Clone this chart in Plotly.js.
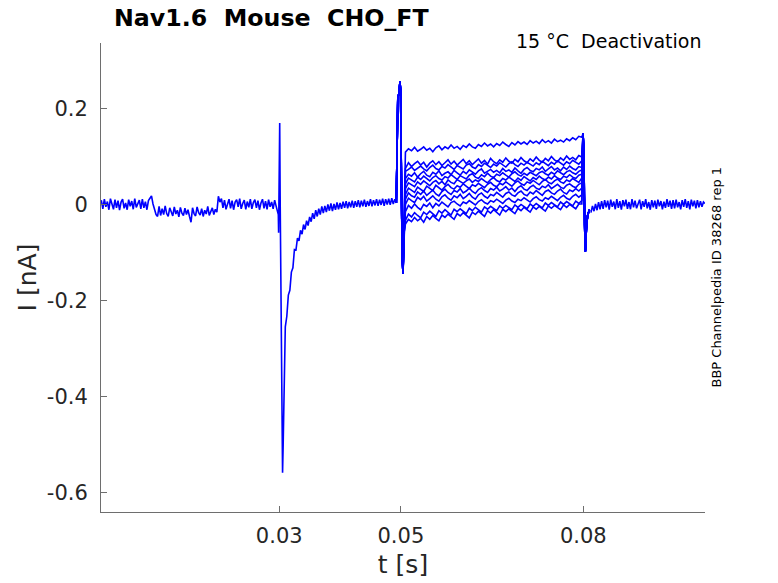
<!DOCTYPE html>
<html>
<head>
<meta charset="utf-8">
<script src="https://cdn.plot.ly/plotly-3.0.1.min.js"></script>
<style>
  body { margin: 0; background: #fff; }
  #chart { width: 778px; height: 583px; }
</style>
</head>
<body>
<div id="chart"></div>
<script>
// sampled current traces, I in nA, times in ms (converted to s below)

// common baseline before the 0.03 s step, sampled every 0.25 ms from 0.75 ms
var preStart = 0.75, preStep = 0.25;
var iPre = [0.010,-0.008,0.012,-0.004,0.007,-0.010,0.013,0.001,-0.009,0.011,-0.006,0.009,-0.011,0.006,0.012,-0.007,0.004,-0.010,0.011,-0.003,0.008,-0.009,0.013,-0.005,0.002,0.010,-0.008,0.012,-0.006,0.007,-0.010,0.009,0.014,0.019,
  0.002,-0.012,-0.020,-0.024,
  -0.003,-0.022,-0.008,-0.020,-0.002,-0.018,-0.024,-0.006,-0.015,-0.023,-0.004,-0.019,-0.011,-0.025,-0.005,-0.017,-0.022,-0.007,-0.020,-0.010,-0.024,-0.036,-0.006,-0.018,-0.023,-0.004,-0.016,-0.021,-0.008,-0.024,-0.011,-0.019,-0.003,-0.022,-0.014,-0.006,-0.020,-0.009,-0.015,
  0.018,0.006,
  0.013,-0.006,0.010,-0.009,0.004,0.012,-0.007,0.009,-0.010,0.006,0.011,-0.004,0.013,-0.008,0.003,0.010,-0.009,0.007,-0.005,0.012,-0.008,0.005,0.011,-0.006,0.009,-0.010,0.004,0.012,-0.007,0.008,-0.009,0.011,-0.004,0.006,-0.008,0.010,-0.003,-0.013];

// capacitive spike at 0.03 s
var tSpike30 = [29.85, 29.9, 29.98, 30.08, 30.15, 30.28, 30.42, 30.55, 30.65, 30.8, 31.0];
var iSpike30 = [-0.02, -0.058, 0.05, 0.171, 0.02, -0.25, -0.48, -0.558, -0.50, -0.36, -0.254];

// tail current decay, every 0.25 ms from 31.25 ms
var decayStart = 31.25, decayStep = 0.25;
var iDecay = [-0.232,-0.188,-0.178,-0.140,-0.131,-0.093,-0.094,-0.069,-0.075,-0.053,-0.061,-0.041,-0.051,-0.033,-0.043,-0.025,-0.035,-0.017,-0.029,-0.011,
  -0.024,-0.008,-0.020,-0.003,-0.017,-0.002,-0.015,0.001,-0.012,0.003,-0.013,0.002,-0.010,0.005,-0.009,0.004,-0.008,0.007,-0.006,0.008,
  -0.007,0.006,-0.005,0.009,-0.006,0.008,-0.004,0.010,-0.005,0.009,-0.003,0.011,-0.004,0.008,-0.002,0.012,-0.003,0.010,-0.001,0.012,
  -0.002,0.011,0.000,0.013,-0.002,0.012,0.001,0.013,0.000,0.014,0.002,0.012,0.004];

// spike at 0.05 s, shared by all sweeps
var tSpike50 = [49.25, 49.5, 49.7, 49.85, 49.95, 50.05, 50.2, 50.35, 50.5];
var iSpike50 = [0.004, 0.225, 0.232, 0.257, 0.24, 0.05, -0.10, -0.144, -0.06];

// sweep plateaus 0.05..0.08 s, every 0.5 ms from 50.75 ms
var plateauStart = 50.75, plateauStep = 0.5;
var sweep1 = [0.110,0.117,0.113,0.120,0.112,0.116,0.121,0.114,0.118,0.111,
  0.119,0.123,0.115,0.121,0.117,0.125,0.118,0.122,0.116,0.124,
  0.120,0.127,0.121,0.118,0.126,0.122,0.129,0.123,0.127,0.121,
  0.128,0.124,0.131,0.126,0.122,0.130,0.125,0.132,0.127,0.131,
  0.126,0.134,0.129,0.133,0.128,0.136,0.130,0.134,0.129,0.137,
  0.132,0.135,0.131,0.138,0.134,0.140,0.136,0.143,0.141];
var sweep2 = [0.076,0.088,0.080,0.086,0.091,0.083,0.089,0.079,0.087,0.092,
  0.084,0.090,0.082,0.088,0.094,0.085,0.091,0.083,0.089,0.095,
  0.086,0.092,0.084,0.090,0.096,0.087,0.093,0.085,0.097,0.090,
  0.086,0.094,0.089,0.098,0.091,0.087,0.095,0.090,0.099,0.092,
  0.088,0.096,0.091,0.100,0.093,0.089,0.097,0.092,0.101,0.094,
  0.090,0.098,0.093,0.102,0.095,0.099,0.094,0.103,0.100];
var sweep3 = [0.070,0.074,0.079,0.072,0.076,0.081,0.075,0.071,0.078,0.083,
  0.076,0.073,0.080,0.077,0.084,0.078,0.074,0.082,0.079,0.075,
  0.083,0.086,0.079,0.076,0.084,0.080,0.087,0.082,0.078,0.085,
  0.081,0.088,0.083,0.079,0.086,0.090,0.084,0.080,0.087,0.083,
  0.089,0.085,0.081,0.088,0.084,0.091,0.086,0.082,0.089,0.085,
  0.092,0.087,0.083,0.090,0.086,0.093,0.088,0.085,0.092];
var sweep4 = [0.055,0.064,0.060,0.067,0.058,0.065,0.070,0.062,0.059,0.068,
  0.064,0.071,0.061,0.066,0.069,0.063,0.072,0.067,0.062,0.070,
  0.065,0.073,0.068,0.064,0.071,0.075,0.066,0.070,0.074,0.068,
  0.072,0.067,0.076,0.070,0.073,0.068,0.077,0.071,0.066,0.074,
  0.078,0.072,0.069,0.076,0.073,0.079,0.070,0.075,0.080,0.073,
  0.077,0.071,0.079,0.074,0.081,0.076,0.073,0.080,0.078];
var sweep5 = [0.044,0.056,0.051,0.048,0.058,0.053,0.060,0.054,0.050,0.057,
  0.061,0.055,0.052,0.059,0.056,0.063,0.057,0.053,0.061,0.058,
  0.054,0.062,0.065,0.058,0.055,0.063,0.059,0.066,0.060,0.057,
  0.064,0.061,0.067,0.062,0.058,0.065,0.069,0.063,0.060,0.066,
  0.062,0.068,0.064,0.061,0.067,0.070,0.065,0.062,0.068,0.064,
  0.071,0.066,0.063,0.069,0.072,0.067,0.064,0.070,0.073];
var sweep6 = [0.034,0.046,0.041,0.038,0.048,0.043,0.050,0.045,0.040,0.047,
  0.051,0.044,0.049,0.042,0.052,0.047,0.044,0.053,0.048,0.045,
  0.050,0.054,0.047,0.052,0.049,0.055,0.050,0.046,0.053,0.057,
  0.051,0.048,0.055,0.052,0.058,0.053,0.049,0.056,0.051,0.059,
  0.054,0.050,0.057,0.053,0.060,0.055,0.052,0.058,0.054,0.061,
  0.056,0.053,0.060,0.057,0.063,0.058,0.055,0.062,0.064];
var sweep7 = [0.022,0.035,0.030,0.026,0.037,0.032,0.028,0.039,0.034,0.030,
  0.041,0.035,0.031,0.038,0.043,0.036,0.033,0.040,0.037,0.044,
  0.038,0.034,0.042,0.039,0.045,0.040,0.036,0.043,0.047,0.041,
  0.038,0.045,0.042,0.048,0.043,0.039,0.046,0.050,0.044,0.041,
  0.048,0.045,0.051,0.046,0.042,0.049,0.053,0.047,0.044,0.050,
  0.054,0.048,0.045,0.052,0.049,0.055,0.050,0.047,0.056];
var sweep8 = [0.012,0.025,0.019,0.016,0.027,0.022,0.029,0.020,0.025,0.031,
  0.023,0.019,0.028,0.033,0.026,0.022,0.030,0.027,0.034,0.025,
  0.029,0.035,0.028,0.024,0.032,0.036,0.030,0.026,0.034,0.031,
  0.037,0.029,0.033,0.038,0.031,0.035,0.028,0.036,0.040,0.033,
  0.030,0.037,0.041,0.035,0.032,0.039,0.036,0.042,0.034,0.038,
  0.043,0.037,0.034,0.041,0.044,0.039,0.036,0.043,0.046];
var sweep9 = [0.001,0.014,0.009,0.005,0.016,0.011,0.018,0.008,0.013,0.019,
  0.012,0.008,0.017,0.021,0.014,0.010,0.019,0.015,0.022,0.013,
  0.018,0.024,0.016,0.012,0.021,0.025,0.018,0.014,0.022,0.019,
  0.026,0.020,0.016,0.024,0.027,0.021,0.018,0.025,0.029,0.022,
  0.019,0.027,0.023,0.030,0.024,0.020,0.028,0.031,0.025,0.022,
  0.029,0.033,0.026,0.023,0.031,0.028,0.034,0.029,0.035];
var sweep10 = [-0.014,-0.001,-0.007,0.002,-0.005,-0.010,0.001,-0.003,0.004,-0.006,
  0.003,-0.002,0.006,0.000,-0.004,0.005,0.008,0.002,-0.002,0.006,
  0.003,0.009,0.004,0.000,0.007,0.011,0.005,0.002,0.009,0.006,
  0.012,0.007,0.003,0.010,0.014,0.008,0.005,0.012,0.009,0.015,
  0.010,0.006,0.013,0.017,0.011,0.008,0.015,0.012,0.018,0.013,
  0.009,0.016,0.020,0.014,0.011,0.018,0.022,0.016,0.021];
var sweep11 = [-0.032,-0.019,-0.025,-0.016,-0.022,-0.027,-0.015,-0.020,-0.013,-0.019,
  -0.024,-0.012,-0.017,-0.010,-0.016,-0.021,-0.009,-0.014,-0.008,-0.013,
  -0.018,-0.007,-0.012,-0.005,-0.010,-0.015,-0.004,-0.009,-0.003,-0.008,
  -0.012,-0.002,-0.007,-0.001,-0.006,-0.010,0.000,-0.005,0.001,-0.004,
  -0.008,0.002,-0.003,0.003,-0.002,-0.006,0.004,-0.001,0.005,0.000,
  -0.004,0.006,0.001,0.007,0.002,-0.002,0.008,0.003,0.009];
var sweep12 = [-0.040,-0.030,-0.035,-0.026,-0.033,-0.028,-0.036,-0.024,-0.030,-0.022,
  -0.028,-0.033,-0.021,-0.026,-0.019,-0.025,-0.030,-0.018,-0.023,-0.016,
  -0.022,-0.027,-0.015,-0.020,-0.013,-0.019,-0.024,-0.012,-0.017,-0.010,
  -0.016,-0.021,-0.009,-0.014,-0.008,-0.013,-0.018,-0.007,-0.012,-0.005,
  -0.011,-0.015,-0.004,-0.009,-0.003,-0.008,-0.013,-0.002,-0.007,-0.001,
  -0.006,-0.010,0.000,-0.005,0.001,-0.004,-0.008,0.002,0.002];

// spike at 0.08 s, shared by all sweeps
var tSpike80 = [79.95, 80.05, 80.2, 80.33, 80.5, 80.7, 81.0];
var iSpike80 = [0.149, 0.12, -0.04, -0.097, -0.05, -0.022, -0.010];

// common baseline after 0.08 s, every 0.25 ms from 81.25 ms
var postStart = 81.25, postStep = 0.25;
var iPost = [-0.016,-0.002,-0.013,0.002,-0.011,0.006,-0.009,0.008,-0.008,0.010,-0.005,0.009,-0.010,0.011,-0.004,0.007,-0.009,0.012,-0.006,0.008,
  -0.010,0.010,-0.003,0.011,-0.008,0.006,-0.009,0.012,-0.005,0.009,-0.007,0.004,0.011,-0.009,0.008,-0.004,0.012,-0.007,0.006,-0.010,
  0.010,-0.005,0.009,-0.008,0.011,-0.003,0.008,-0.009,0.007,-0.006,0.012,-0.004,0.009,-0.008,0.010,-0.007,0.011,-0.005,0.006,-0.009,
  0.010,-0.004,0.012,-0.006,0.008,-0.009,0.011,-0.003,0.009,-0.007,0.010,-0.005,0.008,-0.004,0.006,0.003];

var sweeps = [sweep1, sweep2, sweep3, sweep4, sweep5, sweep6, sweep7, sweep8, sweep9, sweep10, sweep11, sweep12];

var xTicks = [0.03, 0.05, 0.08];
var xTickText = ['0.03', '0.05', '0.08'];
var yTicks = [-0.6, -0.4, -0.2, 0, 0.2];
var yTickText = ['-0.6', '-0.4', '-0.2', '0', '0.2'];

// sample clock of the evenly sampled pieces
function sampleTimes(start, step, n) {
    var t = [];
    for (var k = 0; k < n; k++) t.push(start + k * step);
    return t;
}
function toSeconds(ms) { return ms.map(function (v) { return v / 1000; }); }

var blue = '#0000ff';
var lineStyle = { color: blue, width: 1.6 };

var tCommon = sampleTimes(preStart, preStep, iPre.length)
    .concat(tSpike30, sampleTimes(decayStart, decayStep, iDecay.length));
var iCommon = iPre.concat(iSpike30, iDecay);

var traces = [{
    x: toSeconds(tCommon), y: iCommon, mode: 'lines', line: lineStyle, hoverinfo: 'skip'
}];
sweeps.forEach(function (s) {
    var tSweep = tSpike50.concat(sampleTimes(plateauStart, plateauStep, s.length), tSpike80);
    traces.push({
        x: toSeconds(tSweep), y: iSpike50.concat(s, iSpike80),
        mode: 'lines', line: lineStyle, hoverinfo: 'skip'
    });
});
traces.push({
    x: toSeconds(sampleTimes(postStart, postStep, iPost.length)), y: iPost,
    mode: 'lines', line: lineStyle, hoverinfo: 'skip'
});

var axisColor = '#6e6e6e';
var textColor = '#262626';
var font = 'DejaVu Sans, sans-serif';

var layout = {
    width: 778,
    height: 583,
    showlegend: false,
    paper_bgcolor: '#fff',
    plot_bgcolor: '#fff',
    margin: { l: 101, r: 73, t: 43, b: 71, pad: 0 },
    font: { family: font, color: textColor },
    title: {
        text: 'Nav1.6\u00a0\u00a0Mouse\u00a0\u00a0CHO_FT',
        font: { family: font, size: 23.7, weight: 'bold', color: '#000' },
        xref: 'container', x: 114 / 778, xanchor: 'left',
        yref: 'container', y: 1 - 18 / 583, yanchor: 'middle'
    },
    xaxis: {
        range: [0.0007, 0.1],
        tickvals: xTicks, ticktext: xTickText,
        ticks: 'inside', ticklen: 6, tickcolor: axisColor, tickwidth: 1,
        showline: true, linecolor: axisColor, linewidth: 1,
        showgrid: false, zeroline: false,
        tickfont: { size: 21, color: textColor },
        ticklabelstandoff: 5,
        title: { text: 't [s]', font: { size: 25, color: textColor }, standoff: 8 }
    },
    yaxis: {
        range: [-0.64, 0.3375],
        tickvals: yTicks, ticktext: yTickText,
        ticks: 'inside', ticklen: 6, tickcolor: axisColor, tickwidth: 1,
        showline: true, linecolor: axisColor, linewidth: 1,
        showgrid: false, zeroline: false,
        tickfont: { size: 21, color: textColor },
        ticklabelstandoff: 8,
        title: { text: 'I [nA]', font: { size: 25, color: textColor }, standoff: 3 }
    },
    annotations: [{
        text: '15 °C\u00a0\u00a0Deactivation',
        xref: 'paper', yref: 'paper',
        x: (703 - 101) / 604, y: (512 - 41) / 469, xanchor: 'right', yanchor: 'middle',
        showarrow: false, font: { size: 19, color: '#000' }
    }, {
        text: 'BBP Channelpedia ID 38268 rep 1',
        xref: 'paper', yref: 'paper',
        x: (716 - 101) / 604, y: 0.5, xanchor: 'center', yanchor: 'middle',
        textangle: -90, showarrow: false, font: { size: 13, color: '#000' }
    }]
};

Plotly.newPlot('chart', traces, layout, { displayModeBar: false, staticPlot: true });
</script>
</body>
</html>
